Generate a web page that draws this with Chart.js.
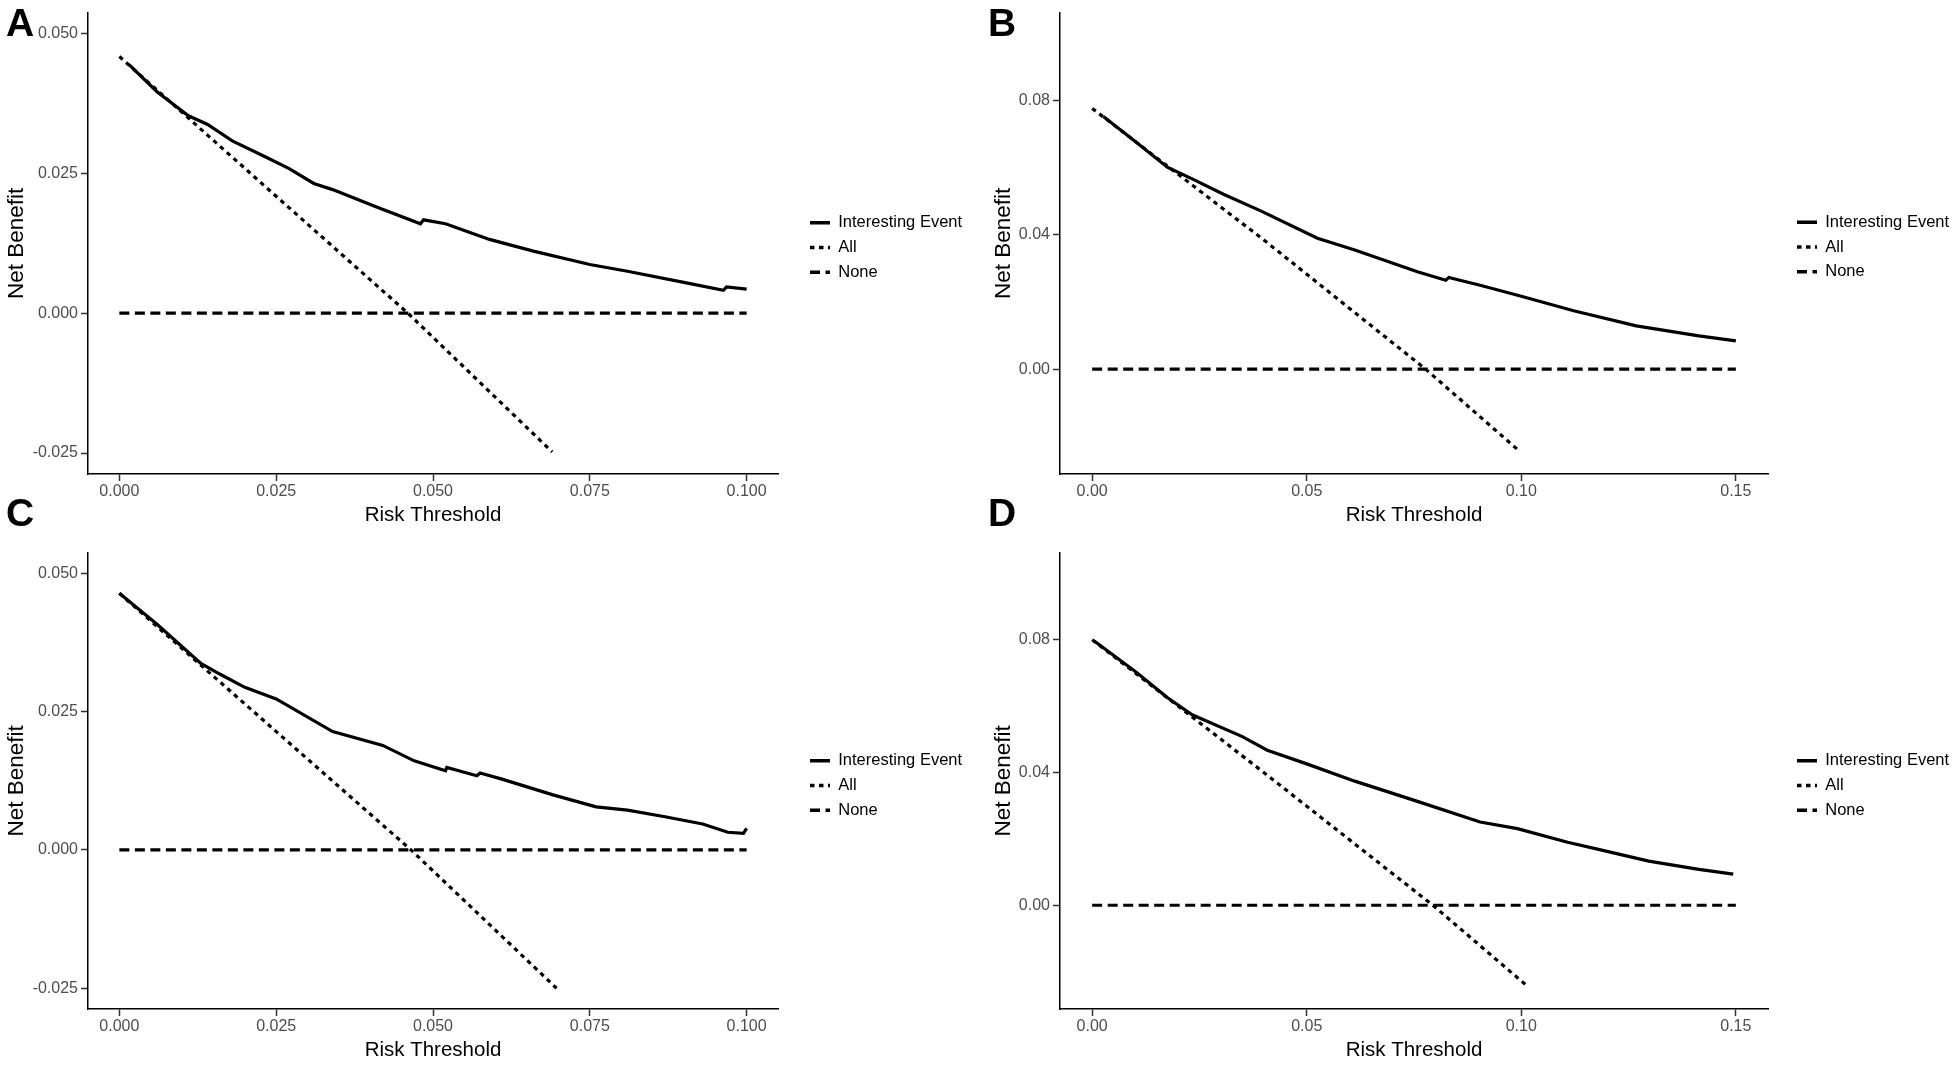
<!DOCTYPE html>
<html>
<head>
<meta charset="utf-8">
<script src="https://cdn.jsdelivr.net/npm/chart.js@4.4.1/dist/chart.umd.min.js"></script>
<style>
  body { margin: 0; background: #fff; }
  #page { position: relative; width: 1955px; height: 1071px; overflow: hidden; font-family: "Liberation Sans", Arial, sans-serif; }
  .panel { position: absolute; }
  .tag { position: absolute; font-weight: bold; font-size: 39px; line-height: 1; color: #000; }
</style>
</head>
<body>
<div id="page">
  <div class="panel" style="left:0px;top:0px"><canvas id="chartA" width="978" height="530"></canvas></div>
  <div class="panel" style="left:980px;top:0px"><canvas id="chartB" width="975" height="530"></canvas></div>
  <div class="panel" style="left:0px;top:540px"><canvas id="chartC" width="978" height="531"></canvas></div>
  <div class="panel" style="left:980px;top:540px"><canvas id="chartD" width="975" height="531"></canvas></div>
  <div class="tag" style="left:6px;top:3px">A</div>
  <div class="tag" style="left:988px;top:3px">B</div>
  <div class="tag" style="left:6px;top:493px">C</div>
  <div class="tag" style="left:988px;top:493px">D</div>
</div>
<script>
// series labels
const seriesNames = ["Interesting Event", "All", "None"];

// panel A
const aModelX = [0.0015, 0.006, 0.011, 0.014, 0.018, 0.023, 0.027, 0.031, 0.034, 0.041, 0.048, 0.0485, 0.052, 0.059, 0.066, 0.075, 0.081, 0.091, 0.0963, 0.0968, 0.100];
const aModelY = [0.0445, 0.0396, 0.0353, 0.0338, 0.0308, 0.0281, 0.0259, 0.0232, 0.0221, 0.0190, 0.0160, 0.0167, 0.0160, 0.0132, 0.0111, 0.0087, 0.0075, 0.0053, 0.0041, 0.0047, 0.0043];
const aAllX = [0, 0.023, 0.046, 0.069];
const aAllY = [0.0459, 0.0229, 0.0, -0.0248];
const aNoneX = [0, 0.100];
const aNoneY = [0, 0];

// panel B
const bModelX = [0.0026, 0.0102, 0.0175, 0.0233, 0.0306, 0.0394, 0.0525, 0.0612, 0.0758, 0.0824, 0.0831, 0.0904, 0.100, 0.1122, 0.1268, 0.1414, 0.150];
const bModelY = [0.0753, 0.0677, 0.0602, 0.0567, 0.0521, 0.0471, 0.0390, 0.0355, 0.0290, 0.0265, 0.0273, 0.0250, 0.0217, 0.0174, 0.0129, 0.0099, 0.0084];
const bAllX = [0, 0.040, 0.0777, 0.099];
const bAllY = [0.0777, 0.0385, 0.0, -0.0238];
const bNoneX = [0, 0.150];
const bNoneY = [0, 0];

// panel C
const cModelX = [0, 0.006, 0.013, 0.016, 0.020, 0.025, 0.034, 0.042, 0.047, 0.052, 0.0522, 0.057, 0.0575, 0.061, 0.069, 0.076, 0.081, 0.087, 0.093, 0.097, 0.0995, 0.100];
const cModelY = [0.0464, 0.0408, 0.0337, 0.0318, 0.0294, 0.0273, 0.0214, 0.0189, 0.0161, 0.0143, 0.0149, 0.0134, 0.0139, 0.0128, 0.0100, 0.0078, 0.0072, 0.0060, 0.0047, 0.0032, 0.0030, 0.0039];
const cAllX = [0, 0.023, 0.0465, 0.0697];
const cAllY = [0.0464, 0.0234, 0.0, -0.0250];
const cNoneX = [0, 0.100];
const cNoneY = [0, 0];

// panel D
const dModelX = [0.0004, 0.0102, 0.0175, 0.0233, 0.035, 0.0408, 0.050, 0.0612, 0.0758, 0.0904, 0.0991, 0.1108, 0.1195, 0.1297, 0.1414, 0.1494];
const dModelY = [0.0797, 0.0703, 0.0626, 0.0574, 0.0508, 0.0467, 0.0426, 0.0374, 0.0313, 0.0251, 0.0231, 0.0190, 0.0164, 0.0133, 0.0108, 0.0094];
const dAllX = [0, 0.040, 0.0794, 0.101];
const dAllY = [0.0800, 0.0400, 0.0, -0.0239];
const dNoneX = [0, 0.150];
const dNoneY = [0, 0];

// tick values
const xTicksSmall = [0, 0.025, 0.05, 0.075, 0.1];
const yTicksSmall = [-0.025, 0, 0.025, 0.05];
const xTicksWide = [0, 0.05, 0.1, 0.15];
const yTicksWide = [0, 0.04, 0.08];

const FONT = '"Liberation Sans", Arial, sans-serif';
const LEGEND_PAD = 8.3;

function zip(xs, ys) {
    return xs.map((x, i) => ({ x: x, y: ys[i] }));
}

// move the legend a little away from the panel, like ggplot does
const legendShift = {
    id: "legendShift",
    afterLayout(chart, args, opts) {
        const lg = chart.legend;
        if (!lg || opts.x == null) return;
        const dx = opts.x - (lg.left + LEGEND_PAD);
        lg.left += dx; lg.right += dx;
        lg.top += opts.dy; lg.bottom += opts.dy;
    }
};

function buildChart(id, p) {
    let ctx = document.getElementById(id).getContext("2d");
    let chart = new Chart(ctx, {
        type: "line",
        data: {
            datasets: [
                { label: seriesNames[0], data: zip(p.modelX, p.modelY), borderColor: "#000", borderWidth: 3.2, borderDash: [] },
                { label: seriesNames[1], data: zip(p.allX, p.allY), borderColor: "#000", borderWidth: 3.2, borderDash: [4.5, 4.5] },
                { label: seriesNames[2], data: zip(p.noneX, p.noneY), borderColor: "#000", borderWidth: 3.2, borderDash: [10, 5.5] }
            ]
        },
        options: {
            responsive: false,
            animation: false,
            events: [],
            layout: { padding: { top: p.padTop, right: 0, bottom: 0, left: 0 } },
            elements: { point: { radius: 0 }, line: { tension: 0, borderCapStyle: "butt" } },
            plugins: {
                tooltip: { enabled: false },
                legendShift: { x: p.legendX, dy: p.legendDy },
                legend: {
                    position: "right",
                    labels: {
                        usePointStyle: true,
                        pointStyle: "line",
                        pointStyleWidth: 20,
                        color: "#000",
                        padding: LEGEND_PAD,
                        font: { family: FONT, size: 16.5 },
                        // point style legends lose the dash pattern, put it back
                        generateLabels: chart => Chart.defaults.plugins.legend.labels.generateLabels(chart).map(item => {
                            const ds = chart.data.datasets[item.datasetIndex];
                            item.lineDash = ds.borderDash;
                            item.lineWidth = 3.4;
                            item.strokeStyle = "#000";
                            return item;
                        })
                    }
                }
            },
            scales: {
                x: {
                    type: "linear",
                    min: p.xMin, max: p.xMax,
                    afterBuildTicks: s => { s.ticks = p.xTicks.map(v => ({ value: v })); },
                    afterFit: s => { s.height = p.xAxisH; },
                    ticks: {
                        autoSkip: false, maxRotation: 0, padding: 1,
                        color: "#4d4d4d", font: { family: FONT, size: 16 },
                        callback: v => v.toFixed(p.digits)
                    },
                    grid: { drawOnChartArea: false, drawTicks: true, tickLength: 7, tickColor: "#333", tickWidth: 1.5 },
                    border: { display: true, color: "#000", width: 1.5 },
                    title: { display: true, text: "Risk Threshold", color: "#000", font: { family: FONT, size: 20.5, lineHeight: 1.2 }, padding: { top: 0, bottom: p.xTitlePad } }
                },
                y: {
                    type: "linear",
                    min: p.yMin, max: p.yMax,
                    afterBuildTicks: s => { s.ticks = p.yTicks.map(v => ({ value: v })); },
                    afterFit: s => { s.width = p.yAxisW; },
                    ticks: {
                        autoSkip: false, padding: 3,
                        color: "#4d4d4d", font: { family: FONT, size: 16 },
                        callback: v => v.toFixed(p.digits)
                    },
                    grid: { drawOnChartArea: false, drawTicks: true, tickLength: 7, tickColor: "#333", tickWidth: 1.5 },
                    border: { display: true, color: "#000", width: 1.5 },
                    title: { display: true, text: "Net Benefit", color: "#000", font: { family: FONT, size: 22.5, lineHeight: 1.2 }, padding: { top: p.yTitlePad, bottom: 0 } }
                }
            }
        },
        plugins: [legendShift]
    });
    // nudge the right padding so the panel ends where the reference one does
    let diff = chart.chartArea.right - p.plotRight;
    if (Math.abs(diff) > 0.5) {
        chart.options.layout.padding.right += diff;
        chart.update();
    }
    return chart;
}

const smallScale = { xMin: -0.005, xMax: 0.105, yMin: -0.02875, yMax: 0.05375, xTicks: xTicksSmall, yTicks: yTicksSmall, digits: 3, yAxisW: 88, yTitlePad: 3, plotRight: 778, legendX: 810 };
const wideScale = { xMin: -0.0075, xMax: 0.1575, yMin: -0.03125, yMax: 0.10625, xTicks: xTicksWide, yTicks: yTicksWide, digits: 2, yAxisW: 80, yTitlePad: 10.5, plotRight: 788, legendX: 817 };

buildChart("chartA", Object.assign({}, smallScale, { modelX: aModelX, modelY: aModelY, allX: aAllX, allY: aAllY, noneX: aNoneX, noneY: aNoneY, padTop: 6, xAxisH: 56, xTitlePad: 2.7, legendDy: -20.5 }));
buildChart("chartB", Object.assign({}, wideScale, { modelX: bModelX, modelY: bModelY, allX: bAllX, allY: bAllY, noneX: bNoneX, noneY: bNoneY, padTop: 5, xAxisH: 56, xTitlePad: 2.7, legendDy: -20.5 }));
buildChart("chartC", Object.assign({}, smallScale, { modelX: cModelX, modelY: cModelY, allX: cAllX, allY: cAllY, noneX: cNoneX, noneY: cNoneY, padTop: 6, xAxisH: 62, xTitlePad: 8.7, legendDy: -23 }));
buildChart("chartD", Object.assign({}, wideScale, { modelX: dModelX, modelY: dModelY, allX: dAllX, allY: dAllY, noneX: dNoneX, noneY: dNoneY, padTop: 6, xAxisH: 62, xTitlePad: 8.7, legendDy: -23 }));
</script>
</body>
</html>
